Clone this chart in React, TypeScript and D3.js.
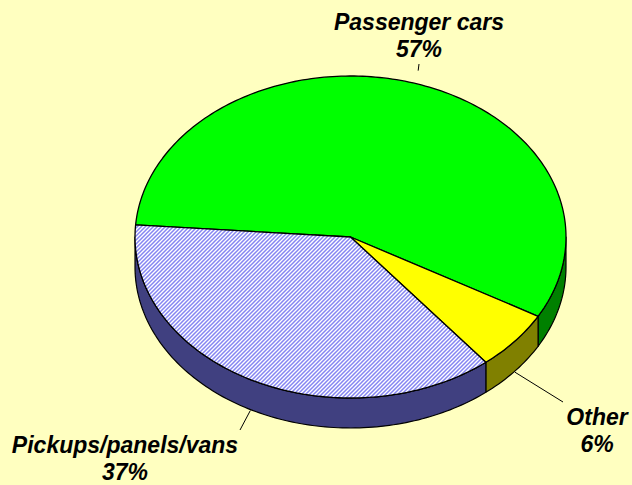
import React, { useEffect, useRef } from 'react';
import * as d3 from 'd3';

const categories = ['Passenger cars', 'Other', 'Pickups/panels/vans'];
const shares = [57, 6, 37];
const pctLabels = ['57%', '6%', '37%'];
const topFills = ['#00ff00', '#ffff00', 'url(#hatch)'];
const sideFills = ['#008000', '#808000', '#404080'];

const dims = { width: 632, height: 485 };
const pie3d = { cx: 350.5, cy: 237, rx: 215.5, ry: 161, depth: 30, startDeg: 184.3 };

// first-line baseline of each two-line label, and leader end points
const labelPos = [
    { x: 419, y: 30, lx: 419, ly: 64 },
    { x: 597, y: 425, lx: 563, ly: 402 },
    { x: 125, y: 453, lx: 240, ly: 430 },
];

const App = () => {
    const container = useRef<SVGSVGElement | null>(null);

    useEffect(() => {
        document.body.style.margin = '0';
        if (!container.current) return;

        const svg = d3.select(container.current);
        svg.selectAll('*').remove();

        const defs = svg.append('defs');
        const pat = defs.append('pattern')
            .attr('id', 'hatch')
            .attr('width', 4)
            .attr('height', 4)
            .attr('patternUnits', 'userSpaceOnUse');
        pat.append('rect').attr('width', 4).attr('height', 4).attr('fill', '#ffffff');
        pat.append('path')
            .attr('d', 'M-1,1 l2,-2 M0,4 l4,-4 M3,5 l2,-2')
            .attr('stroke', '#8585f2')
            .attr('stroke-width', 1.5);

        svg.append('rect')
            .attr('width', dims.width)
            .attr('height', dims.height)
            .attr('fill', '#ffffc0');

        const start = (pie3d.startDeg + 90) * Math.PI / 180;
        const arcs = d3.pie<number>().sort(null)
            .startAngle(start)
            .endAngle(start + 2 * Math.PI)(shares);

        // parametric angle on the ellipse (0 = right, clockwise on screen)
        const pt = (t: number, dy = 0, k = 1): [number, number] =>
            [pie3d.cx + pie3d.rx * k * Math.cos(t), pie3d.cy + pie3d.ry * k * Math.sin(t) + dy];
        const sample = (a: number, b: number, dy = 0) => {
            const n = Math.max(2, Math.ceil(Math.abs(b - a) / 0.02));
            return d3.range(n + 1).map(i => pt(a + (b - a) * i / n, dy));
        };
        const line = d3.line();

        const slices = arcs.map((d, i) => ({
            i,
            a: d.startAngle - Math.PI / 2,
            b: d.endAngle - Math.PI / 2,
        }));

        const g = svg.append('g');

        // outer walls (front half only)
        slices.forEach(s => {
            for (let k = -1; k <= 2; k++) {
                const lo = Math.max(s.a, 2 * Math.PI * k);
                const hi = Math.min(s.b, 2 * Math.PI * k + Math.PI);
                if (hi <= lo) continue;
                const pts = [...sample(lo, hi), ...sample(hi, lo, pie3d.depth)];
                g.append('path')
                    .attr('d', line(pts) + 'Z')
                    .attr('fill', sideFills[s.i])
                    .attr('stroke', '#000')
                    .attr('stroke-width', 1.2)
                    .attr('stroke-linejoin', 'round');
            }
        });

        // top faces
        slices.forEach(s => {
            const pts: [number, number][] = [[pie3d.cx, pie3d.cy], ...sample(s.a, s.b)];
            g.append('path')
                .attr('d', line(pts) + 'Z')
                .attr('fill', topFills[s.i])
                .attr('stroke', '#000')
                .attr('stroke-width', 1.3)
                .attr('stroke-linejoin', 'round');
        });

        // leader lines
        slices.forEach(s => {
            const mid = (s.a + s.b) / 2;
            const norm = ((mid % (2 * Math.PI)) + 2 * Math.PI) % (2 * Math.PI);
            const front = norm < Math.PI;
            const p = front ? pt(mid, pie3d.depth + 1) : pt(mid, 0, 1.08);
            const lp = labelPos[s.i];
            g.append('line')
                .attr('x1', p[0]).attr('y1', p[1])
                .attr('x2', lp.lx).attr('y2', lp.ly)
                .attr('stroke', '#000')
                .attr('stroke-width', 1);
        });

        // labels
        const lab = svg.append('g')
            .style('font-family', 'Arial, "Liberation Sans", sans-serif')
            .style('font-weight', 'bold')
            .style('font-style', 'italic')
            .style('font-size', '23px')
            .attr('text-anchor', 'middle');
        categories.forEach((c, i) => {
            const lp = labelPos[i];
            const t = lab.append('text').attr('x', lp.x).attr('y', lp.y);
            t.append('tspan').attr('x', lp.x).text(c);
            t.append('tspan').attr('x', lp.x).attr('dy', 27).text(pctLabels[i]);
        });
    }, []);

    return <svg ref={container} width={dims.width} height={dims.height} style={{ display: 'block' }} />;
};

export default App;
